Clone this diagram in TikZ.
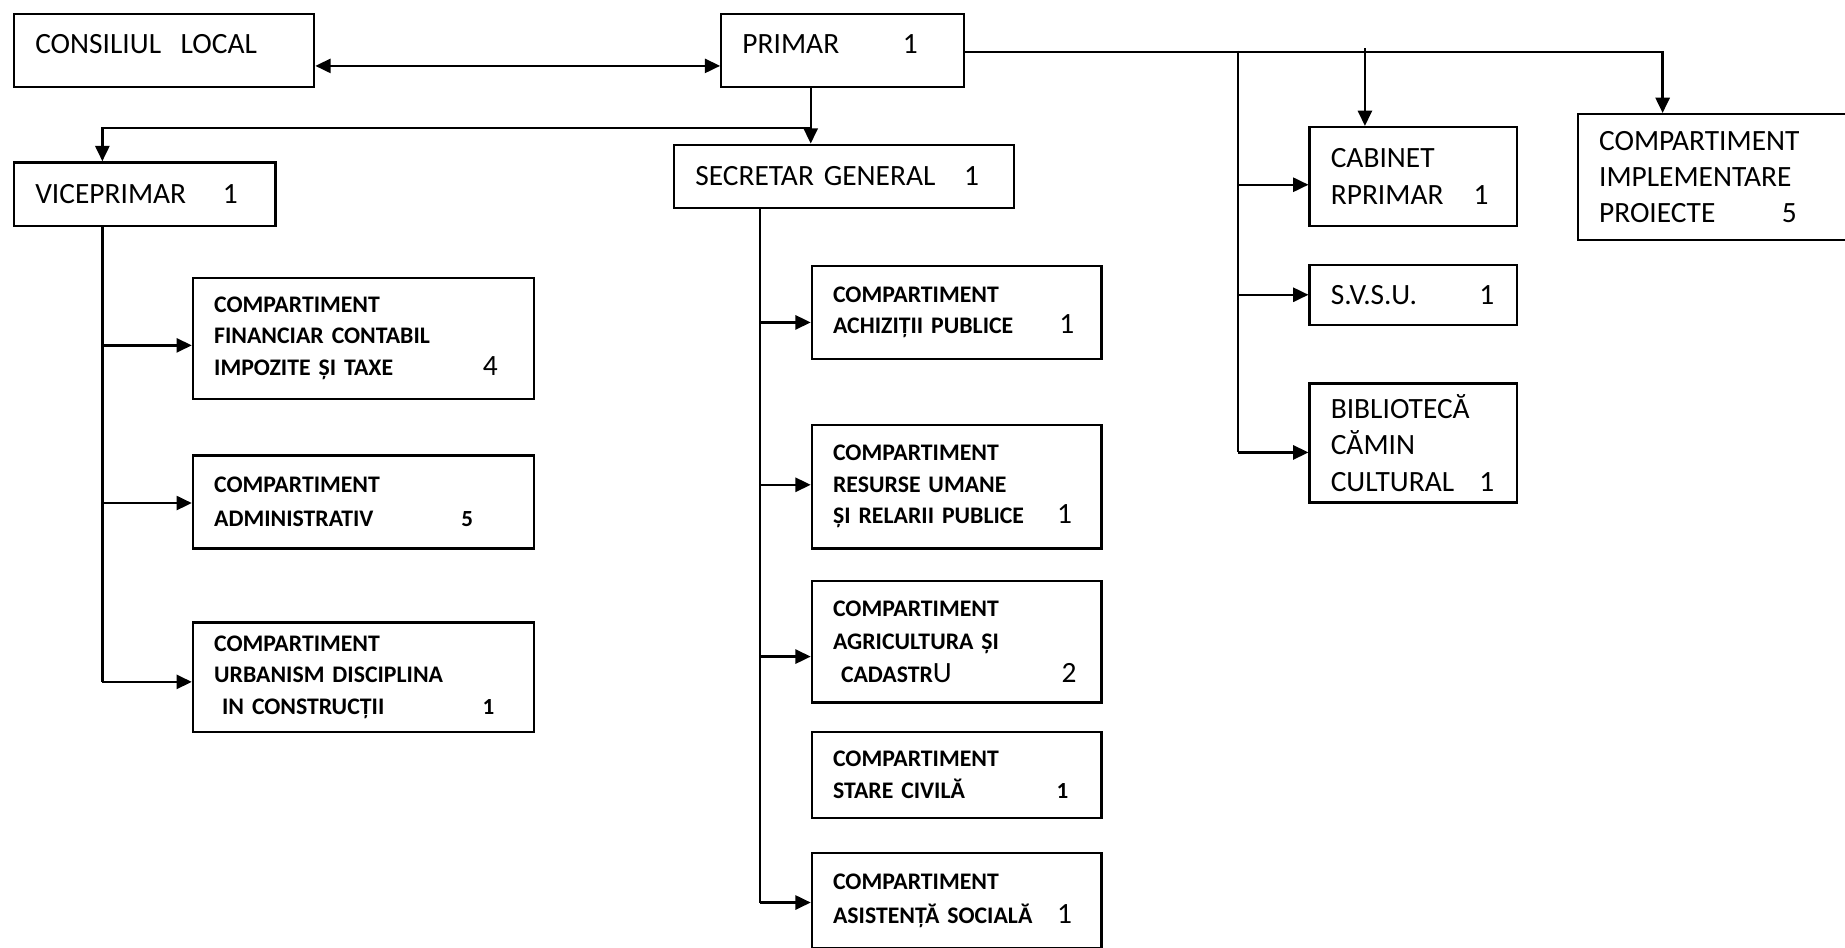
\documentclass[tikz,border=0pt]{standalone}
\usepackage{fontspec}
\setmainfont{Carlito}
\usetikzlibrary{arrows.meta,positioning}

\newcommand{\cnt}[2]{\hfill#2\rule{#1}{0pt}}
\newcommand{\rg}{\mdseries\fontsize{12.5}{13.5}\selectfont}
\newcommand{\sm}{\fontsize{9.8}{13.5}\selectfont}

\begin{document}
\begin{tikzpicture}[x=0.5pt,y=-0.5pt,
    box/.style={draw,line width=1pt,anchor=north west,inner xsep=9pt,inner ysep=0pt,align=left,font=\fontsize{12.5}{15.5}\selectfont},
    bbox/.style={box,font=\bfseries\fontsize{10.1}{13.5}\selectfont,text width=127pt},
    mbox/.style={bbox,text width=105pt},
    link/.style={line width=1pt},
    arr/.style={link,-{Triangle[length=6.5pt,width=6pt]}},
    darr/.style={link,{Triangle[length=6.5pt,width=6pt]}-{Triangle[length=6.5pt,width=6pt]}}]
\path[use as bounding box,clip] (0,0) rectangle (1568,805);

\node[box,text width=109.5pt,minimum height=31pt,text depth=6pt] (consiliu) at (11,11) {CONSILIUL\ \ LOCAL};
\node[box,text width=85pt,minimum height=31pt,text depth=6pt] (primar) at (612,11) {PRIMAR\cnt{10.5pt}{1}};
\node[box,text width=93pt,minimum height=27pt] (viceprimar) at (11,137) {VICEPRIMAR\cnt{7pt}{1}};
\node[box,text width=126.5pt,minimum height=27pt] (secretar) at (572,122) {SECRETAR GENERAL\cnt{6pt}{1}};
\node[box,text width=70pt,minimum height=42pt,font=\fontsize{12.5}{16}\selectfont] (cabinet) at (1112,107) {CABINET\\RPRIMAR\cnt{3pt}{1}};
\node[box,text width=98pt,minimum height=53.5pt,font=\fontsize{12.5}{15.25}\selectfont] (proiecte) at (1340,96) {COMPARTIMENT\\IMPLEMENTARE\\PROIECTE\cnt{14pt}{5}};
\node[box,text width=70pt,minimum height=25.5pt] (svsu) at (1112,224) {S.V.S.U.\cnt{0.5pt}{1}};
\node[box,text width=70pt,minimum height=50.5pt,font=\fontsize{12.5}{15.5}\selectfont] (biblio) at (1112,325) {BIBLIOTECĂ\\CĂMIN\\CULTURAL\cnt{0.5pt}{1}};

\node[bbox,minimum height=51.5pt] (financiar) at (163,235) {COMPARTIMENT\\FINANCIAR CONTABIL\\IMPOZITE ȘI TAXE\cnt{6.5pt}{\rg 4}};
\node[bbox,minimum height=39.5pt,font=\bfseries\fontsize{10.1}{14.5}\selectfont] (administrativ) at (163,386) {COMPARTIMENT\\ADMINISTRATIV\cnt{17pt}{\sm 5}};
\node[bbox,minimum height=46.5pt,font=\bfseries\fontsize{10.1}{13.5}\selectfont] (urbanism) at (163,528) {COMPARTIMENT\\URBANISM DISCIPLINA\\\ IN CONSTRUCȚII\cnt{8pt}{\sm 1}};

\node[mbox,minimum height=39.5pt] (achizitii) at (689,225) {COMPARTIMENT\\ACHIZIȚII PUBLICE\cnt{2.5pt}{\rg 1}};
\node[mbox,minimum height=52.5pt] (resurse) at (689,360) {COMPARTIMENT\\RESURSE UMANE\\ȘI RELARII PUBLICE\cnt{3.5pt}{\rg 1}};
\node[mbox,minimum height=51.5pt,font=\bfseries\fontsize{10.1}{14}\selectfont] (agricultura) at (689,493) {COMPARTIMENT\\AGRICULTURA ȘI\\\ CADASTR{\rg U}\cnt{1.5pt}{\rg 2}};
\node[mbox,minimum height=36.5pt] (starecivila) at (689,621) {COMPARTIMENT\\STARE CIVILĂ\cnt{5pt}{\sm 1}};
\node[mbox,minimum height=40.5pt,font=\bfseries\fontsize{10.1}{14.5}\selectfont] (asistenta) at (689,724) {COMPARTIMENT\\ASISTENȚĂ SOCIALĂ\cnt{3.5pt}{\rg 1}};

\draw[darr] ([yshift=-6.5pt]consiliu.east) -- ([yshift=-6.5pt]primar.west);
\draw[arr] ([xshift=-13.5pt]primar.south) -- ([xshift=-13.5pt]primar.south |- secretar.north);
\draw[arr] ([xshift=-13.5pt,yshift=-17pt]primar.south) -| ([xshift=38pt]viceprimar.north west);
\draw[arr] ([yshift=-0.5pt]primar.east) -| ([xshift=36.5pt]proiecte.north west);
\draw[arr] ([xshift=24pt,yshift=1pt]cabinet.north west |- primar.east) -- ([xshift=24pt]cabinet.north west);

\coordinate (rtrunk) at (1052,43);
\draw[link] (rtrunk) -- ([yshift=-4pt]biblio.west -| rtrunk);
\foreach \n/\dy in {cabinet/-3.5pt,svsu/0pt,biblio/-4pt}
    \draw[arr] ([yshift=\dy]\n.west -| rtrunk) -- ([yshift=\dy]\n.west);

\coordinate (vtrunk) at ([xshift=38pt]viceprimar.south west);
\draw[link] (vtrunk) -- ([yshift=-2pt]urbanism.west -| vtrunk);
\foreach \n/\dy in {financiar/-3pt,administrativ/-0.5pt,urbanism/-2pt}
    \draw[arr] ([yshift=\dy]\n.west -| vtrunk) -- ([yshift=\dy]\n.west);

\coordinate (strunk) at ([xshift=37pt]secretar.south west);
\draw[link] (strunk) -- ([yshift=-0.75pt]asistenta.west -| strunk);
\foreach \n/\dy in {achizitii/-4.25pt,resurse/0.75pt,agricultura/-6.25pt,asistenta/-0.75pt}
    \draw[arr] ([yshift=\dy]\n.west -| strunk) -- ([yshift=\dy]\n.west);
\end{tikzpicture}
\end{document}
